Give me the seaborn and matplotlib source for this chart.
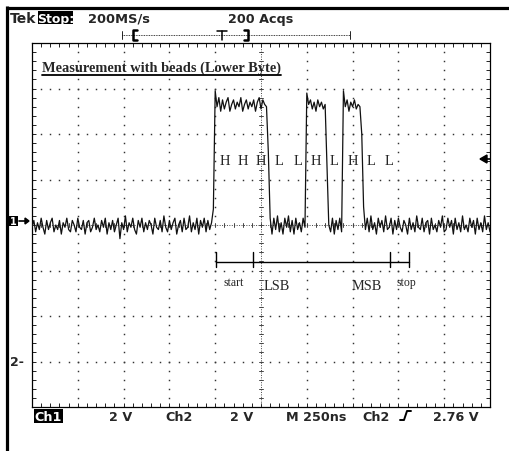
import numpy as np
import pandas as pd
import matplotlib
matplotlib.use("Agg")
import matplotlib.pyplot as plt
from matplotlib.lines import Line2D
from matplotlib.patches import Rectangle, Polygon
import seaborn as sns

# ---------------- data ----------------
sample_step_ns = 10
# Ch1 trace in volts, segments in time order (10 ns per sample)
low_before = [
    -0.1, 0.2, -0.3, 0.1, -0.2, 0.3, -0.1, -0.4, 0.2, -0.2,
    0.1, 0.3, -0.3, 0.0, -0.2, 0.2, -0.4, 0.1, -0.1, 0.3,
    -0.2, -0.3, 0.2, 0.0, -0.3, 0.3, -0.1, -0.2, 0.2, -0.4,
    0.1, 0.2, -0.3, -0.1, 0.3, -0.2, 0.0, -0.3, 0.2, -0.1,
    0.3, -0.4, 0.1, -0.2, 0.2, -0.3, 0.0, 0.3, -0.6, 0.1,
    -0.2, 0.4, -0.3, 0.1, -0.1, 0.3, -0.2, -0.4, 0.2, -0.1,
    0.3, -0.3, 0.1, -0.2, 0.2, 0.0, -0.4, 0.3, -0.1, -0.2,
    0.2, -0.3, 0.4, -0.1, -0.3, 0.2, -0.2, 0.1, 0.3, -0.4,
    0.0, 0.2, -0.3, 0.3, -0.2, -0.1, 0.4, -0.3, 0.1, -0.2,
    0.3, -0.4, 0.2, -0.1, 0.3, -0.3, 0.2, -0.2, 0.1, 0.7]
high_1 = [5.9, 5.2, 5.6, 5.0, 5.5, 5.1, 5.4, 5.6, 5.0, 5.3,
          5.5, 5.1, 5.4, 5.2, 5.6, 5.0, 5.3, 5.5, 5.1, 5.4,
          5.2, 5.5, 5.0, 5.4, 5.6, 5.1, 5.5, 5.3, 5.2]
fall_1 = [3.2, 0.3]
low_2 = [-0.4, 0.3, -0.2, 0.4, -0.3, 0.1, -0.4, 0.3, -0.1, 0.4,
         -0.3, 0.2, -0.4, 0.3, -0.2, 0.1, -0.3, 0.3, -0.1]
high_2 = [5.8, 5.3, 5.5, 5.1, 5.4, 5.0, 5.5, 5.2, 5.4, 5.1, 5.3]
fall_2 = [2.6, 0.0]
low_3 = [-0.3, 0.3, -0.4, 0.2, -0.2, 0.3, -0.3]
high_3 = [5.9, 5.2, 5.5, 5.0, 5.4, 5.2, 5.5, 5.1, 5.3, 5.2]
fall_3 = [4.0, 0.8]
low_after = [
    -0.2, 0.3, -0.3, 0.4, -0.2, 0.1, -0.4, 0.3, -0.1, 0.2,
    -0.3, 0.4, -0.2, -0.1, 0.3, -0.4, 0.2, -0.2, 0.3, -0.1,
    -0.3, 0.2, 0.0, -0.4, 0.3, -0.2, 0.1, -0.3, 0.4, -0.1,
    -0.2, 0.3, -0.3, 0.1, 0.2, -0.4, 0.3, -0.2, 0.0, -0.3,
    0.2, -0.1, 0.4, -0.3, -0.2, 0.3, -0.1, 0.2, -0.4, 0.3,
    -0.2, 0.1, -0.3, 0.4, -0.2, 0.0, -0.3, 0.3, -0.1, 0.2,
    -0.4, 0.3, -0.2, 0.1, -0.3, 0.4, -0.2, 0.1, -0.3]

bit_labels = ["H", "H", "H", "L", "L", "H", "L", "H", "L", "L"]
bit_centers_ns = [1050, 1150, 1250, 1350, 1450, 1550, 1650, 1750, 1850, 1950]
frame_marks_ns = [1005, 1205, 1955, 2060]
frame_labels = ["start", "LSB", "MSB", "stop"]
frame_label_ns = [1103, 1337, 1829, 2041]

title = "Measurement with beads (Lower Byte)"
top_labels = ["Tek", "Stop:", "200MS/s", "200 Acqs"]
bottom_labels = ["Ch1", "2 V", "Ch2", "2 V", "M 250ns", "Ch2", "2.76 V"]

# ---------------- build trace ----------------
ch1_volts = (low_before + high_1 + fall_1 + low_2 + high_2 + fall_2 +
             low_3 + high_3 + fall_3 + low_after)
time_ns = [i * sample_step_ns for i in range(len(ch1_volts))]
df = pd.DataFrame({"t": time_ns, "v": ch1_volts})

sns.set_style("white")
plt.rcParams["font.family"] = ["DejaVu Sans"]

W, H = 510, 452
fig = plt.figure(figsize=(W / 100, H / 100), dpi=100)
fig.patch.set_facecolor("white")


def P(x, y):
    return (x / W, 1 - y / H)


def fline(xs, ys, **kw):
    fx = [x / W for x in xs]
    fy = [1 - y / H for y in ys]
    fig.add_artist(Line2D(fx, fy, transform=fig.transFigure, **kw))


ax = fig.add_axes([32 / W, 1 - 408 / H, 458 / W, 364 / H])
ax.set_xlim(0, 2500)
ax.set_ylim(-8, 8)
ax.set_facecolor("white")

# graticule: dotted major lines
dot_kw = dict(linestyle="none", marker="s", markersize=1.05,
              markeredgewidth=0, color="#333333", zorder=1)
ys_minor = np.arange(-8, 8.001, 0.4)
xs_minor = np.arange(0, 2500.1, 50)
for k in range(1, 10):
    if k == 5:
        continue
    ax.plot(np.full_like(ys_minor, 250 * k), ys_minor, **dot_kw)
for yv in [-6, -4, -2, 2, 4, 6]:
    ax.plot(xs_minor, np.full_like(xs_minor, yv), **dot_kw)
# centre cross with ticks
ax.plot([1250, 1250], [-8, 8], color="#444444", lw=0.7,
        linestyle=(0, (1, 1.5)), zorder=1)
ax.plot([0, 2500], [0, 0], color="#444444", lw=0.7,
        linestyle=(0, (1, 1.5)), zorder=1)
for yv in ys_minor:
    ax.plot([1239, 1261], [yv, yv], color="#444444", lw=0.7, zorder=1)
for xv in xs_minor:
    ax.plot([xv, xv], [-0.09, 0.09], color="#444444", lw=0.7, zorder=1)

ax.set_xticks(xs_minor)
ax.set_yticks(ys_minor)
ax.tick_params(direction="in", length=3, width=0.7, top=True, right=True,
               bottom=True, left=True, labelbottom=False, labelleft=False,
               color="#222222")
for s in ax.spines.values():
    s.set_visible(True)
    s.set_linewidth(0.9)
    s.set_color("black")

# trace
sns.lineplot(data=df, x="t", y="v", ax=ax, color="#111111", linewidth=0.9,
             estimator=None, sort=False, zorder=3)
ax.set_xlabel("")
ax.set_ylabel("")

# annotations inside graticule
for lab, xc in zip(bit_labels, bit_centers_ns):
    ax.text(xc, 2.82, lab, ha="center", va="center", fontsize=10.5,
            family="Liberation Serif", zorder=4)
ax.plot([frame_marks_ns[0], frame_marks_ns[-1]], [-1.63, -1.63],
        color="black", lw=1.0, zorder=4)
for xm in frame_marks_ns:
    ax.plot([xm, xm], [-1.2, -1.86], color="black", lw=1.0, zorder=4)
for lab, xl in zip(frame_labels, frame_label_ns):
    small = lab in ("start", "stop")
    ax.text(xl, -2.52 if small else -2.68, lab, ha="center", va="center",
            fontsize=8.5 if small else 10.3, family="Liberation Serif",
            zorder=4)

t = ax.text(55, 6.78, title, ha="left", va="baseline", fontsize=10.4,
            fontweight="bold", family="Liberation Serif", zorder=4)

# ---------------- screen frame ----------------
fline([7.5, 7.5], [7, 452], color="black", lw=2.3, solid_capstyle="butt")
fline([6, 510], [8.5, 8.5], color="black", lw=2.3, solid_capstyle="butt")

# top status row
fig.text(*P(10, 23), top_labels[0], fontsize=10, fontweight="bold",
         va="baseline", ha="left")
fig.add_artist(Rectangle(P(38, 24.5), 35 / W, 13 / H, transform=fig.transFigure,
                         facecolor="black", edgecolor="none"))
fig.text(*P(55.5, 23), top_labels[1], fontsize=9, fontweight="bold",
         va="baseline", ha="center", color="white")
fig.text(*P(88, 23), top_labels[2], fontsize=9.4, fontweight="bold",
         va="baseline", ha="left")
fig.text(*P(228, 23), top_labels[3], fontsize=9.2, fontweight="bold",
         va="baseline", ha="left")

# trigger position bar
fline([122, 350], [36, 36], color="black", lw=0.6, linestyle=(0, (1, 1)))
fline([122, 122], [32, 40], color="black", lw=0.6)
fline([350, 350], [32, 40], color="black", lw=0.6)
fline([137, 133, 133, 137], [30.5, 30.5, 41, 41], color="black", lw=1.8)
fline([244, 248, 248, 244], [30.5, 30.5, 41, 41], color="black", lw=1.8)
fline([217, 227], [31.5, 31.5], color="black", lw=1.1)
fline([222, 222], [31.5, 41], color="black", lw=1.1)

# left markers
fig.add_artist(Rectangle(P(9, 227), 9 / W, 10 / H, transform=fig.transFigure,
                         facecolor="black", edgecolor="none"))
fig.text(*P(13.5, 222), "1", fontsize=7, fontweight="bold", color="white",
         ha="center", va="center")
fline([19, 26], [222, 222], color="black", lw=1.2)
fig.add_artist(Polygon([P(29, 222), P(25, 219), P(25, 225)], closed=True,
                       transform=fig.transFigure, facecolor="black",
                       edgecolor="black"))
fig.text(*P(10, 363), "2-", fontsize=9, fontweight="bold", ha="left",
         va="center")

# right trigger level arrow
fig.add_artist(Polygon([P(480, 160), P(487, 156), P(487, 164)], closed=True,
                       transform=fig.transFigure, facecolor="black",
                       edgecolor="black"))
fline([486, 490], [160, 160], color="black", lw=1.2)

# bottom status row
fig.add_artist(Rectangle(P(34, 423.5), 29 / W, 13.5 / H,
                         transform=fig.transFigure,
                         facecolor="black", edgecolor="none"))
fig.text(*P(48.5, 421), bottom_labels[0], fontsize=9.2, color="white",
         ha="center", va="baseline", fontweight="bold")
bottom_x = [None, 109, 165, 230, 286, 362, 433]
for lab, xl in zip(bottom_labels[1:], bottom_x[1:]):
    fig.text(*P(xl, 421), lab, fontsize=9.2, fontweight="bold",
             ha="left", va="baseline")
fline([400, 404, 407, 411], [421, 421, 412, 412], color="black", lw=1.4)

# underline of the title
fig.canvas.draw()
bb = t.get_window_extent(renderer=fig.canvas.get_renderer())
fig.add_artist(Line2D([bb.x0 / W, bb.x1 / W], [(bb.y0 - 1.5) / H] * 2,
                      transform=fig.transFigure, color="black", lw=1.3))

fig.savefig("out.png", dpi=100)
